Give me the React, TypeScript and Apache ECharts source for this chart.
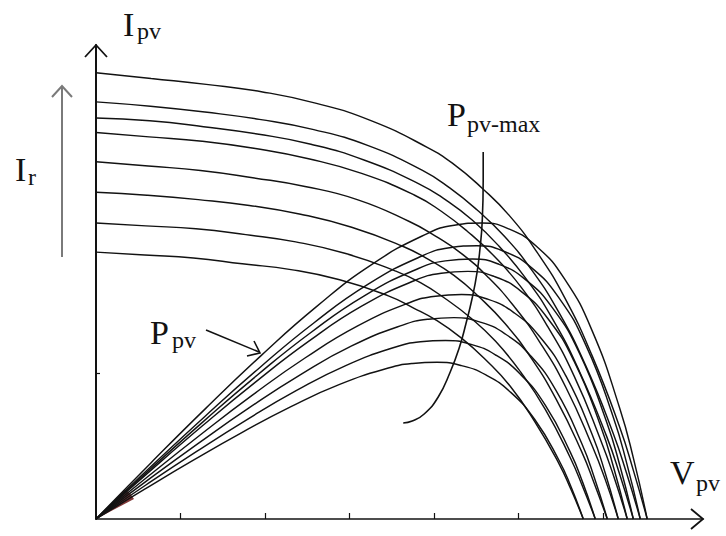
import React, { useEffect, useRef } from "react";
import * as echarts from "echarts";

// PV module characteristics for eight irradiance levels (highest first).
// Voltage in V, current in A, power in W.
const v1 = [0, 3.26, 6.52, 9.78, 13.04, 16.3, 19.56, 21.19, 22.82, 24.45, 26.08, 27.71, 29.34, 30.97, 31.79, 32.6];
const i1 = [3.06, 3.02, 2.98, 2.93, 2.85, 2.73, 2.55, 2.43, 2.27, 2.08, 1.83, 1.52, 1.12, 0.63, 0.33, 0];
const p1 = [0, 9.86, 19.46, 28.65, 37.18, 44.55, 49.94, 51.45, 51.84, 50.75, 47.68, 42.04, 32.99, 19.44, 10.57, 0];

const v2 = [0, 3.22, 6.44, 9.66, 12.88, 16.1, 19.31, 20.92, 22.53, 24.14, 25.75, 27.36, 28.97, 30.58, 31.39, 32.19];
const i2 = [2.86, 2.83, 2.79, 2.74, 2.67, 2.56, 2.39, 2.27, 2.12, 1.94, 1.71, 1.42, 1.05, 0.59, 0.31, 0];
const p2 = [0, 9.1, 17.96, 26.45, 34.32, 41.12, 46.1, 47.49, 47.85, 46.85, 44.01, 38.81, 30.45, 17.95, 9.75, 0];

const v3 = [0, 3.18, 6.36, 9.53, 12.71, 15.89, 19.07, 20.66, 22.25, 23.84, 25.42, 27.01, 28.6, 30.19, 30.99, 31.78];
const i3 = [2.75, 2.73, 2.69, 2.64, 2.57, 2.46, 2.3, 2.19, 2.05, 1.87, 1.65, 1.37, 1.01, 0.57, 0.3, 0];
const p3 = [0, 8.66, 17.1, 25.17, 32.66, 39.13, 43.87, 45.2, 45.54, 44.59, 41.88, 36.93, 28.98, 17.08, 9.28, 0];

const v4 = [0, 3.14, 6.28, 9.43, 12.57, 15.71, 18.85, 20.42, 21.99, 23.57, 25.14, 26.71, 28.28, 29.85, 30.63, 31.42];
const i4 = [2.65, 2.62, 2.59, 2.54, 2.47, 2.37, 2.22, 2.11, 1.97, 1.8, 1.59, 1.32, 0.98, 0.54, 0.29, 0];
const p4 = [0, 8.25, 16.28, 23.96, 31.09, 37.26, 41.76, 43.03, 43.36, 42.45, 39.87, 35.16, 27.59, 16.26, 8.84, 0];

const v5 = [0, 3.09, 6.18, 9.27, 12.36, 15.45, 18.53, 20.08, 21.62, 23.17, 24.71, 26.26, 27.8, 29.35, 30.12, 30.89];
const i5 = [2.45, 2.42, 2.39, 2.34, 2.28, 2.19, 2.04, 1.94, 1.82, 1.66, 1.46, 1.21, 0.9, 0.5, 0.27, 0];
const p5 = [0, 7.48, 14.76, 21.73, 28.19, 33.78, 37.87, 39.02, 39.31, 38.49, 36.15, 31.88, 25.01, 14.74, 8.01, 0];

const v6 = [0, 3.02, 6.05, 9.07, 12.1, 15.12, 18.14, 19.66, 21.17, 22.68, 24.19, 25.7, 27.22, 28.73, 29.48, 30.24];
const i6 = [2.24, 2.22, 2.19, 2.15, 2.09, 2.0, 1.87, 1.78, 1.67, 1.52, 1.34, 1.11, 0.82, 0.46, 0.24, 0];
const p6 = [0, 6.71, 13.24, 19.49, 25.29, 30.3, 33.96, 34.99, 35.26, 34.52, 32.43, 28.59, 22.44, 13.22, 7.19, 0];

const v7 = [0, 2.95, 5.91, 8.86, 11.81, 14.77, 17.72, 19.19, 20.67, 22.15, 23.62, 25.1, 26.58, 28.05, 28.79, 29.53];
const i7 = [2.03, 2.01, 1.99, 1.95, 1.9, 1.82, 1.7, 1.62, 1.51, 1.38, 1.22, 1.01, 0.75, 0.42, 0.22, 0];
const p7 = [0, 5.95, 11.74, 17.28, 22.42, 26.87, 30.12, 31.03, 31.26, 30.61, 28.75, 25.35, 19.89, 11.72, 6.37, 0];

const v8 = [0, 2.88, 5.76, 8.65, 11.53, 14.41, 17.29, 18.73, 20.17, 21.62, 23.06, 24.5, 25.94, 27.38, 28.1, 28.82];
const i8 = [1.83, 1.81, 1.79, 1.75, 1.71, 1.64, 1.53, 1.45, 1.36, 1.24, 1.09, 0.91, 0.67, 0.38, 0.2, 0];
const p8 = [0, 5.22, 10.3, 15.17, 19.68, 23.58, 26.43, 27.23, 27.44, 26.86, 25.23, 22.25, 17.46, 10.29, 5.59, 0];

// Locus of the maximum power points
const pmaxV = [22.9, 22.9, 22.84, 22.72, 22.54, 22.25, 21.89, 21.48, 20.95, 20.24, 19.41, 18.7, 18.17];
const pmaxP = [64.26, 59.36, 52.0, 47.63, 43.25, 38.7, 34.32, 29.94, 25.74, 21.36, 18.39, 17.16, 16.81];

const xTicks = [5, 10, 15, 20, 25, 30];
const yTicks = [1];

const curves = [
  { v: v1, i: i1, p: p1 },
  { v: v2, i: i2, p: p2 },
  { v: v3, i: i3, p: p3 },
  { v: v4, i: i4, p: p4 },
  { v: v5, i: i5, p: p5 },
  { v: v6, i: i6, p: p6 },
  { v: v7, i: i7, p: p7 },
  { v: v8, i: i8, p: p8 },
];

const INK = "#121212";
const SERIF = '"Liberation Serif", "Times New Roman", serif';

function label(text: string, x: number, y: number, size: number, color = INK) {
  return {
    type: "text",
    x,
    y,
    style: {
      text,
      fontSize: size,
      fontFamily: SERIF,
      fill: color,
      align: "left",
      verticalAlign: "middle",
    },
  };
}

function stroke(points: number[][], color = INK, width = 1.6) {
  return {
    type: "polyline",
    shape: { points },
    style: { stroke: color, lineWidth: width, fill: "none" },
  };
}

export default function App() {
  const ref = useRef<HTMLDivElement>(null);

  useEffect(() => {
    if (!ref.current) return;
    const chart = echarts.init(ref.current, null, { renderer: "svg" });

    const lineBase = {
      type: "line",
      showSymbol: false,
      smooth: true,
      silent: true,
      z: 3,
      lineStyle: { color: INK, width: 1.45 },
    };

    const series: any[] = [];
    curves.forEach((c, k) => {
      series.push({
        ...lineBase,
        name: `I-V ${k + 1}`,
        yAxisIndex: 0,
        data: c.v.map((v, j) => [v, c.i[j]]),
      });
      series.push({
        ...lineBase,
        name: `P-V ${k + 1}`,
        yAxisIndex: 1,
        data: c.v.map((v, j) => [v, c.p[j]]),
      });
    });
    series.push({
      ...lineBase,
      name: "Pmax",
      yAxisIndex: 1,
      lineStyle: { color: INK, width: 1.6 },
      data: pmaxV.map((v, j) => [v, pmaxP[j]]),
    });

    chart.setOption({
      animation: false,
      backgroundColor: "#ffffff",
      grid: { left: 96, right: 23, top: 45, bottom: 17 },
      xAxis: {
        type: "value",
        min: 0,
        max: 35.9,
        axisLine: { show: true, onZero: false, lineStyle: { color: INK, width: 1.6 } },
        axisTick: {
          show: true,
          inside: true,
          length: 6,
          customValues: xTicks,
          lineStyle: { color: INK, width: 1.2 },
        },
        axisLabel: { show: false },
        splitLine: { show: false },
      },
      yAxis: [
        {
          type: "value",
          min: 0,
          max: 3.25,
          axisLine: { show: true, onZero: false, lineStyle: { color: INK, width: 2 } },
          axisTick: {
            show: true,
            inside: true,
            length: 4,
            customValues: yTicks,
            lineStyle: { color: INK, width: 1.2 },
          },
          axisLabel: { show: false },
          splitLine: { show: false },
        },
        { type: "value", min: 0, max: 83, show: false },
      ],
      series,
      graphic: [
        // dark red tint where the power curves converge at the origin
        {
          type: "polygon",
          z: 1,
          shape: { points: [[98, 518], [124, 490], [129, 492], [134, 499]] },
          style: { fill: "rgba(105, 20, 20, 0.85)" },
        },
        // axis arrowheads
        stroke([[85, 57], [96, 45], [107, 57]], INK, 1.8),
        stroke([[691, 509], [703, 519], [691, 529]], INK, 1.8),
        // irradiance arrow
        stroke([[62, 257], [62, 86]], "#7a7a7a", 2),
        stroke([[52, 97], [62, 86], [72, 97]], "#7a7a7a", 2),
        // pointer to the P-V curves
        stroke([[206, 330], [259, 352]], INK, 1.6),
        stroke([[254, 341], [260, 353], [247, 356]], INK, 1.6),
        // labels
        label("I", 123, 24, 34),
        label("pv", 137, 31, 24),
        label("I", 15, 169, 34),
        label("r", 28, 177, 24),
        label("P", 150, 332, 34),
        label("pv", 172, 340, 24),
        label("P", 447, 114, 34),
        label("pv-max", 467, 124, 24),
        label("V", 670, 472, 34),
        label("pv", 696, 483, 24),
      ],
    });

    return () => chart.dispose();
  }, []);

  return (
    <div
      ref={ref}
      style={{ position: "fixed", left: 0, top: 0, width: 726, height: 536, background: "#fff" }}
    />
  );
}
